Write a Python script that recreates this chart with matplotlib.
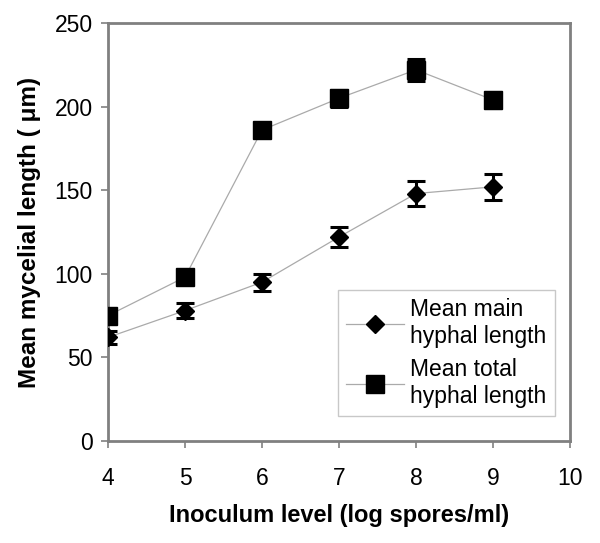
import matplotlib
matplotlib.use("Agg")
import matplotlib.pyplot as plt

x = [4, 5, 6, 7, 8, 9]
main_len = [62, 78, 95, 122, 148, 152]
main_err = [4, 4.5, 5, 6, 7.5, 7.8]
total_len = [75, 98, 186, 205, 222, 204]
total_err = [3, 3, 3, 5, 6.5, 5]

plt.rcParams['font.family'] = ['Liberation Sans', 'DejaVu Sans']
fig = plt.figure(figsize=(6.0, 5.43), dpi=100)
ax = fig.add_axes([108/600, 1-441/543, (570-108)/600, (441-23)/543])

grey = '#808080'
ax.errorbar(x, main_len, yerr=main_err, fmt='D', color='black', ms=9.5,
            ecolor='black', elinewidth=2.2, capsize=6.5, capthick=2.2, zorder=3, linestyle='none')
ax.errorbar(x, total_len, yerr=total_err, fmt='s', color='black', ms=12.5,
            ecolor='black', elinewidth=2.2, capsize=6.5, capthick=2.2, zorder=3, linestyle='none')
ax.plot(x, main_len, color='#aaaaaa', lw=0.9, zorder=2)
ax.plot(x, total_len, color='#aaaaaa', lw=0.9, zorder=2)

# legend proxies
h1, = ax.plot([], [], color='#aaaaaa', lw=0.9, marker='D', ms=9.5, mfc='black', mec='black')
h2, = ax.plot([], [], color='#aaaaaa', lw=0.9, marker='s', ms=12.5, mfc='black', mec='black')
leg = ax.legend([h1, h2], ['Mean main\nhyphal length', 'Mean total\nhyphal length'],
                loc='lower right', bbox_to_anchor=(0.967, 0.06), fontsize=16.5, frameon=True,
                fancybox=False, handlelength=2.5, borderpad=0.35, labelspacing=0.45,
                handletextpad=0.3, borderaxespad=0)
leg.get_frame().set_edgecolor('#bbbbbb')
leg.get_frame().set_linewidth(1.0)

ax.set_xlim(4, 10)
ax.set_ylim(0, 250)
ax.set_xticks(range(4, 11))
ax.set_yticks(range(0, 251, 50))
for s in ax.spines.values():
    s.set_color(grey)
    s.set_linewidth(2.0)
ax.tick_params(direction='out', length=5, width=1.2, color=grey, labelsize=16.5, pad=6)
ax.tick_params(axis='x', pad=14)

ax.set_xlabel('Inoculum level (log spores/ml)', fontsize=17, fontweight='bold', labelpad=10)
ax.set_ylabel('Mean mycelial length ( μm)', fontsize=17.5, fontweight='bold', labelpad=10)

fig.savefig('out.png', dpi=100)
